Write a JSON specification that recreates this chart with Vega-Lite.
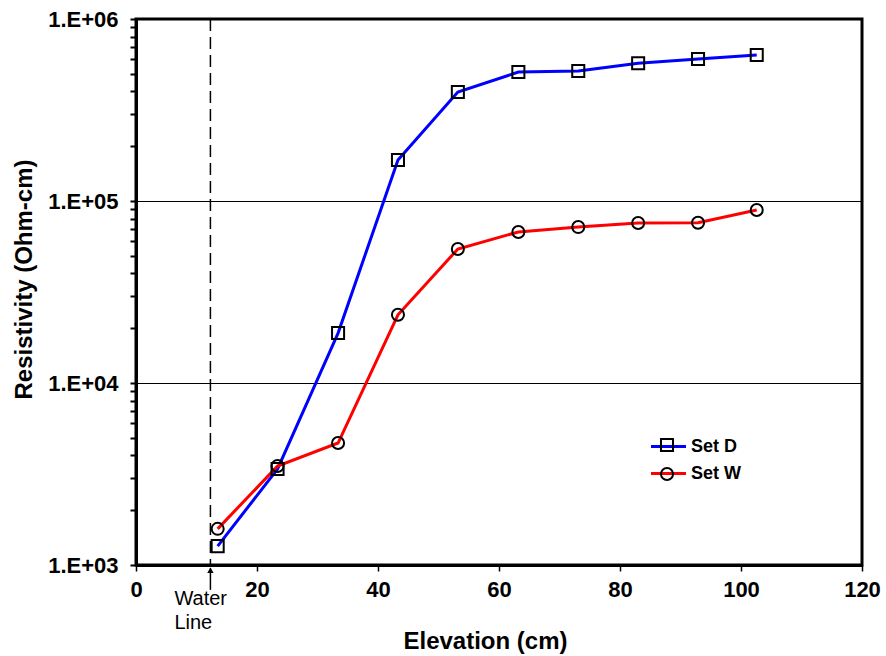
{
  "$schema": "https://vega.github.io/schema/vega-lite/v6.json",
  "width": 726,
  "height": 546,
  "autosize": {"type": "none"},
  "padding": {"left": 136, "top": 19, "right": 24, "bottom": 91},
  "background": "white",
  "config": {
    "view": {"stroke": "black", "strokeWidth": 3},
    "font": "Liberation Sans",
    "axis": {"labelFont": "Liberation Sans", "titleFont": "Liberation Sans", "labelColor": "black", "titleColor": "black"}
  },
  "datasets": {
    "sets": [
      {"elev": 13.5, "res": 1270, "series": "Set D", "marker": "D"},
      {"elev": 23.4, "res": 3370, "series": "Set D", "marker": "D"},
      {"elev": 33.4, "res": 18800, "series": "Set D", "marker": "D"},
      {"elev": 43.3, "res": 168000, "series": "Set D", "marker": "D"},
      {"elev": 53.2, "res": 397000, "series": "Set D", "marker": "D"},
      {"elev": 63.2, "res": 511000, "series": "Set D", "marker": "D"},
      {"elev": 73.1, "res": 518000, "series": "Set D", "marker": "D"},
      {"elev": 83.0, "res": 572000, "series": "Set D", "marker": "D"},
      {"elev": 92.9, "res": 603000, "series": "Set D", "marker": "D"},
      {"elev": 102.6, "res": 634000, "series": "Set D", "marker": "D"},
      {"elev": 13.5, "res": 1580, "series": "Set W", "marker": "W"},
      {"elev": 23.4, "res": 3500, "series": "Set W", "marker": "W"},
      {"elev": 33.4, "res": 4680, "series": "Set W", "marker": "W"},
      {"elev": 43.3, "res": 23700, "series": "Set W", "marker": "W"},
      {"elev": 53.2, "res": 54500, "series": "Set W", "marker": "W"},
      {"elev": 63.2, "res": 67600, "series": "Set W", "marker": "W"},
      {"elev": 73.1, "res": 71900, "series": "Set W", "marker": "W"},
      {"elev": 83.0, "res": 75700, "series": "Set W", "marker": "W"},
      {"elev": 92.9, "res": 76000, "series": "Set W", "marker": "W"},
      {"elev": 102.6, "res": 89300, "series": "Set W", "marker": "W"}
    ],
    "water": [{"elev": 12.3, "label": "Water\nLine"}]
  },
  "layer": [
    {
      "data": {"name": "sets"},
      "mark": {"type": "line", "strokeWidth": 3},
      "encoding": {
        "x": {
          "field": "elev", "type": "quantitative",
          "scale": {"domain": [0, 120], "nice": false, "zero": false},
          "axis": {
            "values": [0, 20, 40, 60, 80, 100, 120],
            "title": "Elevation (cm)",
            "grid": false,
            "labelFontSize": 22, "labelFontWeight": "bold", "labelFlush": false,
            "labelPadding": 8,
            "tickSize": 6, "tickWidth": 1.5, "tickColor": "black",
            "domainColor": "black", "domainWidth": 3,
            "titleFontSize": 24, "titleFontWeight": "bold",
            "titleX": 349, "titleY": 83, "titleAlign": "center", "titleBaseline": "alphabetic"
          }
        },
        "y": {
          "field": "res", "type": "quantitative",
          "scale": {"type": "log", "domain": [1000, 1000000], "nice": false},
          "axis": {
            "values": [1000, 2000, 3000, 4000, 5000, 6000, 7000, 8000, 9000, 10000, 20000, 30000, 40000, 50000, 60000, 70000, 80000, 90000, 100000, 200000, 300000, 400000, 500000, 600000, 700000, 800000, 900000, 1000000],
            "labelExpr": "indexof([1000,10000,100000,1000000], datum.value) >= 0 ? '1.E+0' + format(log(datum.value)/LN10, '.0f') : ''",
            "labelOverlap": false,
            "labelFlush": false,
            "labelFontSize": 22, "labelFontWeight": "bold",
            "labelPadding": 12,
            "tickSize": 6, "tickWidth": 2, "tickColor": "black",
            "domainColor": "black", "domainWidth": 3,
            "grid": true, "gridColor": "black", "gridWidth": 1,
            "gridOpacity": {"condition": {"test": "datum.value == 10000 || datum.value == 100000", "value": 1}, "value": 0},
            "title": "Resistivity (Ohm-cm)",
            "titleFontSize": 24, "titleFontWeight": "bold",
            "titleX": -105, "titleY": 260, "titleAngle": -90, "titleAlign": "center", "titleBaseline": "alphabetic"
          }
        },
        "color": {
          "field": "series", "type": "nominal",
          "scale": {"domain": ["Set D", "Set W"], "range": ["#0000ff", "#ff0000"]},
          "legend": {
            "orient": "none", "legendX": 522, "legendY": 417, "title": null, "padding": 0,
            "symbolType": "M-2,0H2", "symbolSize": 306, "symbolStrokeWidth": 3,
            "labelFont": "Liberation Sans", "labelFontSize": 18, "labelFontWeight": "bold", "labelColor": "black",
            "labelOffset": 12, "rowPadding": 7
          }
        }
      }
    },
    {
      "data": {"name": "sets"},
      "mark": {"type": "point", "filled": false, "stroke": "black", "strokeWidth": 2, "size": 145, "opacity": 1},
      "encoding": {
        "x": {"field": "elev", "type": "quantitative"},
        "y": {"field": "res", "type": "quantitative"},
        "shape": {
          "field": "marker", "type": "nominal",
          "scale": {"range": ["square", "circle"]},
          "legend": {
            "orient": "none", "legendX": 522, "legendY": 417, "title": null, "padding": 0,
            "symbolSize": 145, "symbolStrokeWidth": 2, "symbolStrokeColor": "black", "symbolFillColor": "transparent",
            "labelFont": "Liberation Sans", "labelFontSize": 18, "labelFontWeight": "bold", "labelExpr": "''",
            "labelOffset": 12, "rowPadding": 7
          }
        }
      }
    },
    {
      "data": {"name": "water"},
      "mark": {"type": "rule", "stroke": "black", "strokeWidth": 1.5, "strokeDash": [12, 6]},
      "encoding": {"x": {"field": "elev", "type": "quantitative"}}
    },
    {
      "data": {"name": "water"},
      "mark": {"type": "rule", "stroke": "black", "strokeWidth": 1.5},
      "encoding": {
        "x": {"field": "elev", "type": "quantitative"},
        "y": {"datum": 960},
        "y2": {"datum": 730}
      }
    },
    {
      "data": {"name": "water"},
      "mark": {"type": "point", "shape": "triangle-up", "filled": true, "color": "black", "size": 40, "opacity": 1},
      "encoding": {
        "x": {"field": "elev", "type": "quantitative"},
        "y": {"datum": 935}
      }
    },
    {
      "data": {"name": "water"},
      "mark": {"type": "text", "align": "left", "baseline": "top", "dx": -36, "dy": 24, "lineBreak": "\n", "lineHeight": 24, "font": "Liberation Sans", "fontSize": 20, "color": "black"},
      "encoding": {
        "x": {"field": "elev", "type": "quantitative"},
        "y": {"datum": 1000},
        "text": {"field": "label"}
      }
    }
  ]
}
